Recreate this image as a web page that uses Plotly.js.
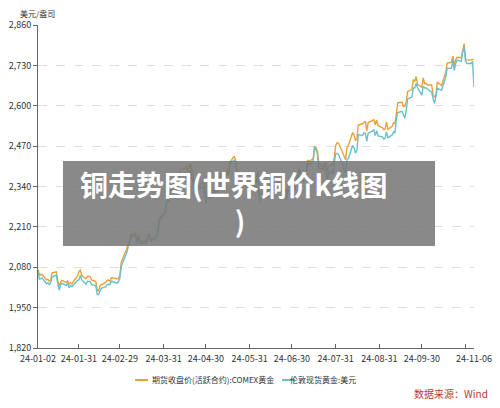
<!DOCTYPE html>
<html>
<head>
<meta charset="utf-8">
<script src="https://cdn.plot.ly/plotly-3.0.1.min.js"></script>
<style>
  html, body { margin: 0; padding: 0; background: #fff; }
  #chart { width: 500px; height: 408px; }
</style>
</head>
<body>
<div id="chart"></div>
<script>
// Trading days, 2024
const dates = [
  '2024-01-02','2024-01-03','2024-01-04','2024-01-05','2024-01-08','2024-01-09','2024-01-10','2024-01-11','2024-01-12',
  '2024-01-15','2024-01-16','2024-01-17','2024-01-18','2024-01-19','2024-01-22','2024-01-23','2024-01-24','2024-01-25',
  '2024-01-26','2024-01-29','2024-01-30','2024-01-31','2024-02-01','2024-02-02','2024-02-05','2024-02-06','2024-02-07',
  '2024-02-08','2024-02-09','2024-02-12','2024-02-13','2024-02-14','2024-02-15','2024-02-16','2024-02-19','2024-02-20',
  '2024-02-21','2024-02-22','2024-02-23','2024-02-26','2024-02-27','2024-02-28','2024-02-29','2024-03-01','2024-03-04',
  '2024-03-05','2024-03-06','2024-03-07','2024-03-08','2024-03-11','2024-03-12','2024-03-13','2024-03-14','2024-03-15',
  '2024-03-18','2024-03-19','2024-03-20','2024-03-21','2024-03-22','2024-03-25','2024-03-26','2024-03-27','2024-03-28',
  '2024-04-01','2024-04-02','2024-04-03','2024-04-04','2024-04-05','2024-04-08','2024-04-09','2024-04-10','2024-04-11',
  '2024-04-12','2024-04-15','2024-04-16','2024-04-17','2024-04-18','2024-04-19','2024-04-22','2024-04-23','2024-04-24',
  '2024-04-25','2024-04-26','2024-04-29','2024-04-30','2024-05-01','2024-05-02','2024-05-03','2024-05-06','2024-05-07',
  '2024-05-08','2024-05-09','2024-05-10','2024-05-13','2024-05-14','2024-05-15','2024-05-16','2024-05-17','2024-05-20',
  '2024-05-21','2024-05-22','2024-05-23','2024-05-24','2024-05-27','2024-05-28','2024-05-29','2024-05-30','2024-05-31',
  '2024-06-03','2024-06-04','2024-06-05','2024-06-06','2024-06-07','2024-06-10','2024-06-11','2024-06-12','2024-06-13',
  '2024-06-14','2024-06-17','2024-06-18','2024-06-19','2024-06-20','2024-06-21','2024-06-24','2024-06-25','2024-06-26',
  '2024-06-27','2024-06-28','2024-07-01','2024-07-02','2024-07-03','2024-07-04','2024-07-05','2024-07-08','2024-07-09',
  '2024-07-10','2024-07-11','2024-07-12','2024-07-15','2024-07-16','2024-07-17','2024-07-18','2024-07-19','2024-07-22',
  '2024-07-23','2024-07-24','2024-07-25','2024-07-26','2024-07-29','2024-07-30','2024-07-31','2024-08-01','2024-08-02',
  '2024-08-05','2024-08-06','2024-08-07','2024-08-08','2024-08-09','2024-08-12','2024-08-13','2024-08-14','2024-08-15',
  '2024-08-16','2024-08-19','2024-08-20','2024-08-21','2024-08-22','2024-08-23','2024-08-26','2024-08-27','2024-08-28',
  '2024-08-29','2024-08-30','2024-09-02','2024-09-03','2024-09-04','2024-09-05','2024-09-06','2024-09-09','2024-09-10',
  '2024-09-11','2024-09-12','2024-09-13','2024-09-16','2024-09-17','2024-09-18','2024-09-19','2024-09-20','2024-09-23',
  '2024-09-24','2024-09-25','2024-09-26','2024-09-27','2024-09-30','2024-10-01','2024-10-02','2024-10-03','2024-10-04',
  '2024-10-07','2024-10-08','2024-10-09','2024-10-10','2024-10-11','2024-10-14','2024-10-15','2024-10-16','2024-10-17',
  '2024-10-18','2024-10-21','2024-10-22','2024-10-23','2024-10-24','2024-10-25','2024-10-28','2024-10-29','2024-10-30',
  '2024-10-31','2024-11-01','2024-11-04','2024-11-05','2024-11-06'
];

// 期货收盘价(活跃合约):COMEX黄金
const comexGold = [
  2073,2055,2056,2057,2039,2041,2035,2039,2062,
  2065,2037,2019,2032,2038,2031,2036,2026,2030,
  2027,2044,2052,2067,2071,2053,2043,2051,2051,
  2050,2039,2034,2006,2004,2021,2024,2031,2038,
  2039,2035,2046,2045,2042,2043,2054,2096,2126,
  2141,2158,2165,2186,2189,2167,2181,2171,2162,
  2165,2160,2184,2185,2166,2179,2180,2196,2238,
  2257,2281,2316,2310,2345,2351,2362,2348,2372,
  2395,2397,2405,2388,2398,2413,2346,2342,2338,
  2342,2347,2357,2302,2311,2309,2308,2331,2324,
  2322,2340,2375,2346,2362,2395,2386,2418,2438,
  2425,2393,2337,2335,2350,2358,2358,2364,2348,
  2369,2347,2375,2390,2311,2326,2333,2340,2320,
  2349,2331,2346,2346,2370,2335,2343,2331,2318,
  2337,2339,2342,2338,2368,2370,2398,2372,2373,
  2379,2424,2421,2429,2468,2465,2454,2417,2400,
  2412,2419,2390,2406,2410,2433,2473,2481,2480,
  2444,2432,2426,2467,2472,2514,2505,2489,2493,
  2538,2542,2546,2550,2518,2546,2552,2555,2538,
  2554,2536,2530,2524,2525,2548,2524,2534,2545,
  2542,2580,2610,2611,2597,2598,2614,2646,2652,
  2684,2678,2694,2668,2660,2690,2671,2673,2667,
  2667,2636,2627,2634,2676,2665,2681,2690,2708,
  2737,2740,2760,2730,2749,2756,2755,2781,2800,
  2750,2747,2748,2749,2747
];

// 伦敦现货黄金:美元
const londonSpot = [
  2063,2042,2043,2045,2027,2030,2024,2029,2049,
  2055,2028,2006,2023,2029,2021,2029,2014,2021,
  2018,2033,2037,2039,2054,2039,2025,2035,2035,
  2034,2024,2020,1992,1992,2004,2013,2017,2024,
  2025,2024,2035,2031,2029,2034,2044,2083,2115,
  2128,2148,2160,2179,2182,2158,2175,2162,2156,
  2160,2157,2186,2181,2165,2172,2179,2194,2230,
  2251,2280,2300,2290,2330,2339,2352,2333,2373,
  2380,2383,2383,2361,2379,2391,2327,2322,2316,
  2332,2337,2335,2286,2320,2303,2301,2323,2314,
  2309,2346,2360,2336,2358,2386,2377,2415,2425,
  2420,2379,2329,2334,2350,2361,2338,2343,2327,
  2350,2327,2355,2376,2294,2311,2316,2325,2303,
  2333,2319,2329,2328,2360,2322,2334,2319,2298,
  2327,2326,2332,2330,2356,2356,2392,2358,2363,
  2371,2415,2411,2422,2469,2458,2445,2400,2396,
  2409,2397,2364,2386,2384,2410,2447,2446,2443,
  2410,2390,2383,2427,2431,2472,2465,2447,2456,
  2507,2504,2513,2512,2485,2512,2518,2524,2504,
  2520,2503,2500,2493,2495,2516,2497,2506,2516,
  2512,2558,2578,2582,2570,2560,2587,2622,2628,
  2657,2657,2672,2658,2634,2663,2657,2657,2653,
  2644,2622,2608,2630,2657,2649,2662,2674,2693,
  2721,2720,2748,2714,2736,2747,2743,2774,2788,
  2744,2736,2736,2743,2660
];

const seriesNames = ['期货收盘价(活跃合约):COMEX黄金', '伦敦现货黄金:美元'];
const seriesColors = ['#E9A23B', '#68C1CB'];

const yTicks = [1820, 1950, 2080, 2210, 2340, 2470, 2600, 2730, 2860];
const xTickVals = ['2024-01-02','2024-01-31','2024-02-29','2024-03-31','2024-04-30','2024-05-31',
                   '2024-06-30','2024-07-31','2024-08-31','2024-09-30','2024-10-31','2024-11-06'];
const xTickText = ['24-01-02','24-01-31','24-02-29','24-03-31','24-04-30','24-05-31',
                   '24-06-30','24-07-31','24-08-31','24-09-30','','24-11-06'];

// banner headline, wrapped onto two lines
const bannerText = '铜走势图(世界铜价k线图<br>&nbsp;&nbsp;)';
const unitLabel = '美元/盎司';
const sourceLabel = '数据来源：Wind';

const cjk = '"Noto Sans CJK SC", "Noto Sans", sans-serif';

const traces = [comexGold, londonSpot].map((vals, i) => ({
  type: 'scatter',
  mode: 'lines',
  x: dates,
  y: vals,
  name: seriesNames[i],
  line: { color: seriesColors[i], width: 1.4 },
  hoverinfo: 'skip',
  showlegend: false
}));

// legend swatches and labels below the axis
const legendItems = [
  { x0: 0.2225, x1: 0.2523, tx: 0.2569 },
  { x0: 0.5596, x1: 0.5894, tx: 0.5734 }
];
const legendY = -0.099;

const shapes = legendItems.map((it, i) => ({
  type: 'line', xref: 'paper', yref: 'paper',
  x0: it.x0, x1: it.x1, y0: legendY, y1: legendY,
  line: { color: seriesColors[i], width: 2 }
}));

// translucent banner over the plot
shapes.push({
  type: 'rect', xref: 'paper', yref: 'paper', layer: 'above',
  x0: 0.0573, x1: 0.9106, y0: 0.316, y1: 0.579,
  fillcolor: 'rgba(118,118,118,0.86)', line: { width: 0 }
});

const annotations = legendItems.map((it, i) => ({
  xref: 'paper', yref: 'paper', x: it.tx, y: legendY,
  xanchor: 'left', yanchor: 'middle', showarrow: false,
  text: seriesNames[i], font: { family: cjk, size: 8, color: '#333' }
}));

annotations.push(
  { xref: 'paper', yref: 'paper', x: 0.450, y: 0.452, xanchor: 'center', yanchor: 'middle',
    align: 'center', showarrow: false, text: '<b>' + bannerText + '</b>',
    font: { family: cjk, size: 28, color: '#ffffff' } },
  { xref: 'paper', yref: 'paper', x: -0.002, y: 1.037, xanchor: 'center', yanchor: 'middle',
    showarrow: false, text: unitLabel, font: { family: cjk, size: 8, color: '#333' } },
  { xref: 'paper', yref: 'paper', x: 1.037, y: -0.142, xanchor: 'right', yanchor: 'middle',
    showarrow: false, text: sourceLabel, font: { family: cjk, size: 10, color: '#B83A3A' } }
);

const layout = {
  width: 500,
  height: 408,
  margin: { l: 38, r: 26, t: 25, b: 60 },
  paper_bgcolor: '#ffffff',
  plot_bgcolor: '#ffffff',
  font: { family: cjk, size: 9, color: '#333' },
  showlegend: false,
  xaxis: {
    type: 'date',
    range: ['2024-01-02', '2024-11-06'],
    tickmode: 'array',
    tickvals: xTickVals,
    ticktext: xTickText,
    ticks: 'inside',
    ticklen: 4,
    tickcolor: '#666',
    showline: true,
    linecolor: '#666',
    linewidth: 1,
    showgrid: false,
    zeroline: false,
    ticklabelstandoff: 2,
    tickfont: { family: cjk, size: 9, color: '#333' }
  },
  yaxis: {
    range: [1820, 2860],
    tickmode: 'array',
    tickvals: yTicks,
    tickformat: ',d',
    ticks: 'outside',
    ticklen: 4,
    tickcolor: '#666',
    showline: true,
    linecolor: '#666',
    linewidth: 1,
    showgrid: true,
    gridcolor: '#dedede',
    griddash: 'dash',
    gridwidth: 1,
    zeroline: false,
    tickfont: { family: cjk, size: 9, color: '#333' }
  },
  shapes: shapes,
  annotations: annotations
};

Plotly.newPlot('chart', traces, layout, { displayModeBar: false, staticPlot: true });
</script>
</body>
</html>
